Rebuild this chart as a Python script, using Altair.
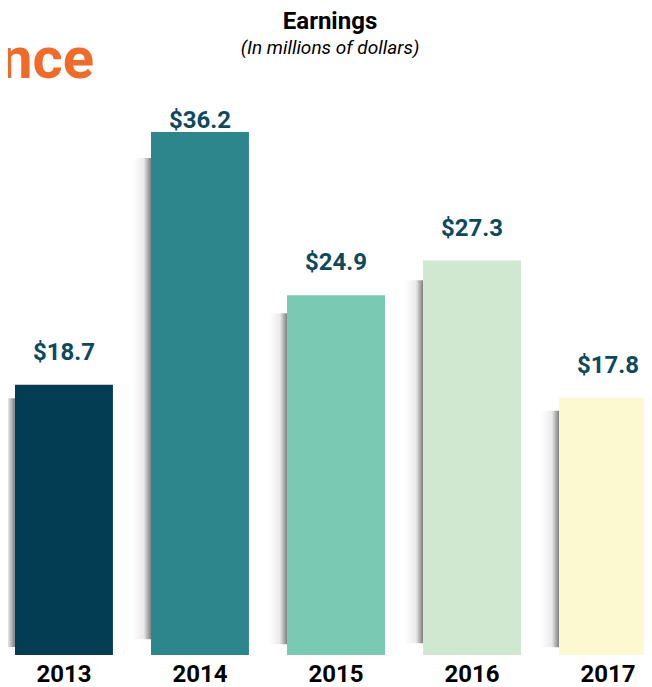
import altair as alt
import pandas as pd

years = ["2013", "2014", "2015", "2016", "2017"]
earnings = [18.7, 36.2, 24.9, 27.3, 17.8]
labels = ["$18.7", "$36.2", "$24.9", "$27.3", "$17.8"]
bar_colors = ["#033d54", "#2d868c", "#79c9b3", "#d1e8d0", "#fcf8cf"]
title_text = "Earnings"
subtitle_text = "(In millions of dollars)"
heading_tail = "nce"

df = pd.DataFrame({"year": years, "value": earnings, "label": labels})

x_enc = alt.X(
    "year:N",
    sort=years,
    scale=alt.Scale(range=[7, 649], paddingInner=0.28, paddingOuter=0),
    axis=alt.Axis(
        title=None, ticks=False, domain=False, labelAngle=0,
        labelFont="Roboto", labelFontWeight="bold", labelFontSize=24,
        labelColor="#000000", labelPadding=7, labelBaseline="top",
    ),
)
y_scale = alt.Scale(domain=[0, 40], nice=False)

shadow = alt.Chart(df).transform_calculate(
    y_top="datum.value * 0.95", y_bot="datum.value * 0.03"
).mark_bar(
    width=18, xOffset=-58, clip=True,
    color=alt.LinearGradient(
        gradient="linear", x1=0, x2=1, y1=0, y2=0,
        stops=[alt.GradientStop(color="rgba(0,0,0,0)", offset=0),
               alt.GradientStop(color="rgba(0,0,0,0.08)", offset=0.6),
               alt.GradientStop(color="rgba(0,0,0,0.5)", offset=1)],
    ),
).encode(
    x=x_enc,
    y=alt.Y("y_top:Q", scale=y_scale, axis=None),
    y2="y_bot:Q",
)

bars = alt.Chart(df).mark_bar(clip=True).encode(
    x=x_enc,
    y=alt.Y("value:Q", scale=y_scale, axis=None),
    color=alt.Color("year:N", scale=alt.Scale(domain=years, range=bar_colors), legend=None),
)

text = alt.Chart(df).transform_calculate(
    label_y="min(datum.value + 1.73, 36.45)"
).mark_text(
    font="Roboto", fontWeight="bold", fontSize=24, color="#0d4a5e",
    baseline="alphabetic", align="center",
).encode(
    x=x_enc,
    y=alt.Y("label_y:Q", scale=y_scale, axis=None),
    text="label:N",
)

one = df.head(1)
corner = alt.Chart(one).mark_text(
    text=heading_tail, font="Roboto", fontWeight="bold", fontSize=58,
    color="#f26a28", align="right", baseline="alphabetic",
).encode(x=alt.value(86), y=alt.value(1))

title = alt.Chart(one).mark_text(
    text=title_text, font="Roboto", fontWeight="bold", fontSize=24,
    color="#000000", align="center", baseline="alphabetic",
).encode(x=alt.value(322), y=alt.value(-48))

subtitle = alt.Chart(one).mark_text(
    text=subtitle_text, font="Roboto", fontStyle="italic", fontSize=19,
    color="#000000", align="center", baseline="alphabetic",
).encode(x=alt.value(322), y=alt.value(-23))

chart = alt.layer(shadow, bars, text, corner, title, subtitle).properties(
    width=636, height=578,
    autosize=alt.AutoSizeParams(type="none"),
    padding={"left": 0, "top": 69, "right": 0, "bottom": 32},
).configure_view(stroke=None)

chart.save("out.html", embed_options={"renderer": "svg", "actions": False})
